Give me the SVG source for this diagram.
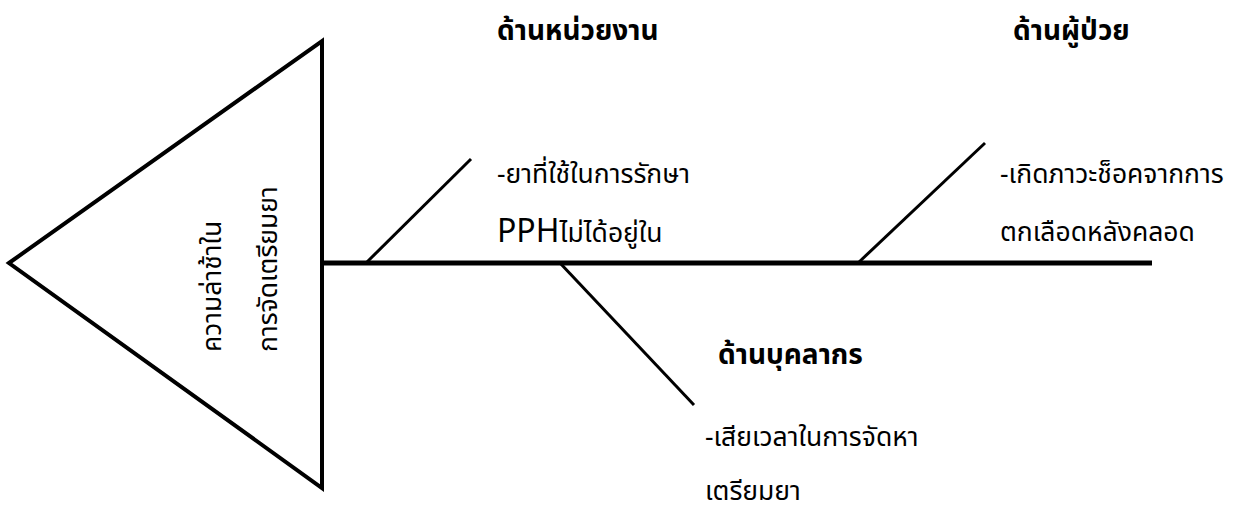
<svg xmlns="http://www.w3.org/2000/svg" width="1253" height="509" viewBox="0 0 1253 509">
<style>
.t{font-family:"Noto Sans","Noto Sans Thai","Liberation Sans",sans-serif;fill:#000}
.h{font-size:28px;font-weight:bold}
.b{font-size:26.5px}
.bone{stroke:#000;stroke-width:3;fill:none}
</style>
<rect width="1253" height="509" fill="#fff"/>
<g id="head">
<polygon points="9,263 322,41 322,488" fill="#fff" stroke="#000" stroke-width="4" stroke-linejoin="miter"/>
<text class="t b" transform="translate(221,352) rotate(-90)">ความล่าช้าใน</text>
<text class="t b" transform="translate(277,352) rotate(-90)">การจัดเตรียมยา</text>
</g>
<g id="connectors">
<line x1="322" y1="263" x2="1152" y2="263" stroke="#000" stroke-width="5"/>
<line class="bone" x1="366" y1="263" x2="471" y2="159"/>
<line class="bone" x1="858" y1="263" x2="985" y2="143"/>
<line class="bone" x1="560" y1="263" x2="694" y2="405"/>
</g>
<g id="unit">
<text class="t h" x="497" y="40">ด้านหน่วยงาน</text>
<text class="t b" x="497" y="183">-ยาที่ใช้ในการรักษา</text>
<text class="t b" x="497" y="242"><tspan font-size="32">PPH</tspan>ไม่ได้อยู่ใน</text>
</g>
<g id="patient">
<text class="t h" x="1013" y="40">ด้านผู้ป่วย</text>
<text class="t b" x="1000" y="183">-เกิดภาวะช็อคจากการ</text>
<text class="t b" x="1000" y="241">ตกเลือดหลังคลอด</text>
</g>
<g id="staff">
<text class="t h" x="718" y="364">ด้านบุคลากร</text>
<text class="t b" x="705" y="446">-เสียเวลาในการจัดหา</text>
<text class="t b" x="705" y="500">เตรียมยา</text>
</g>
</svg>
